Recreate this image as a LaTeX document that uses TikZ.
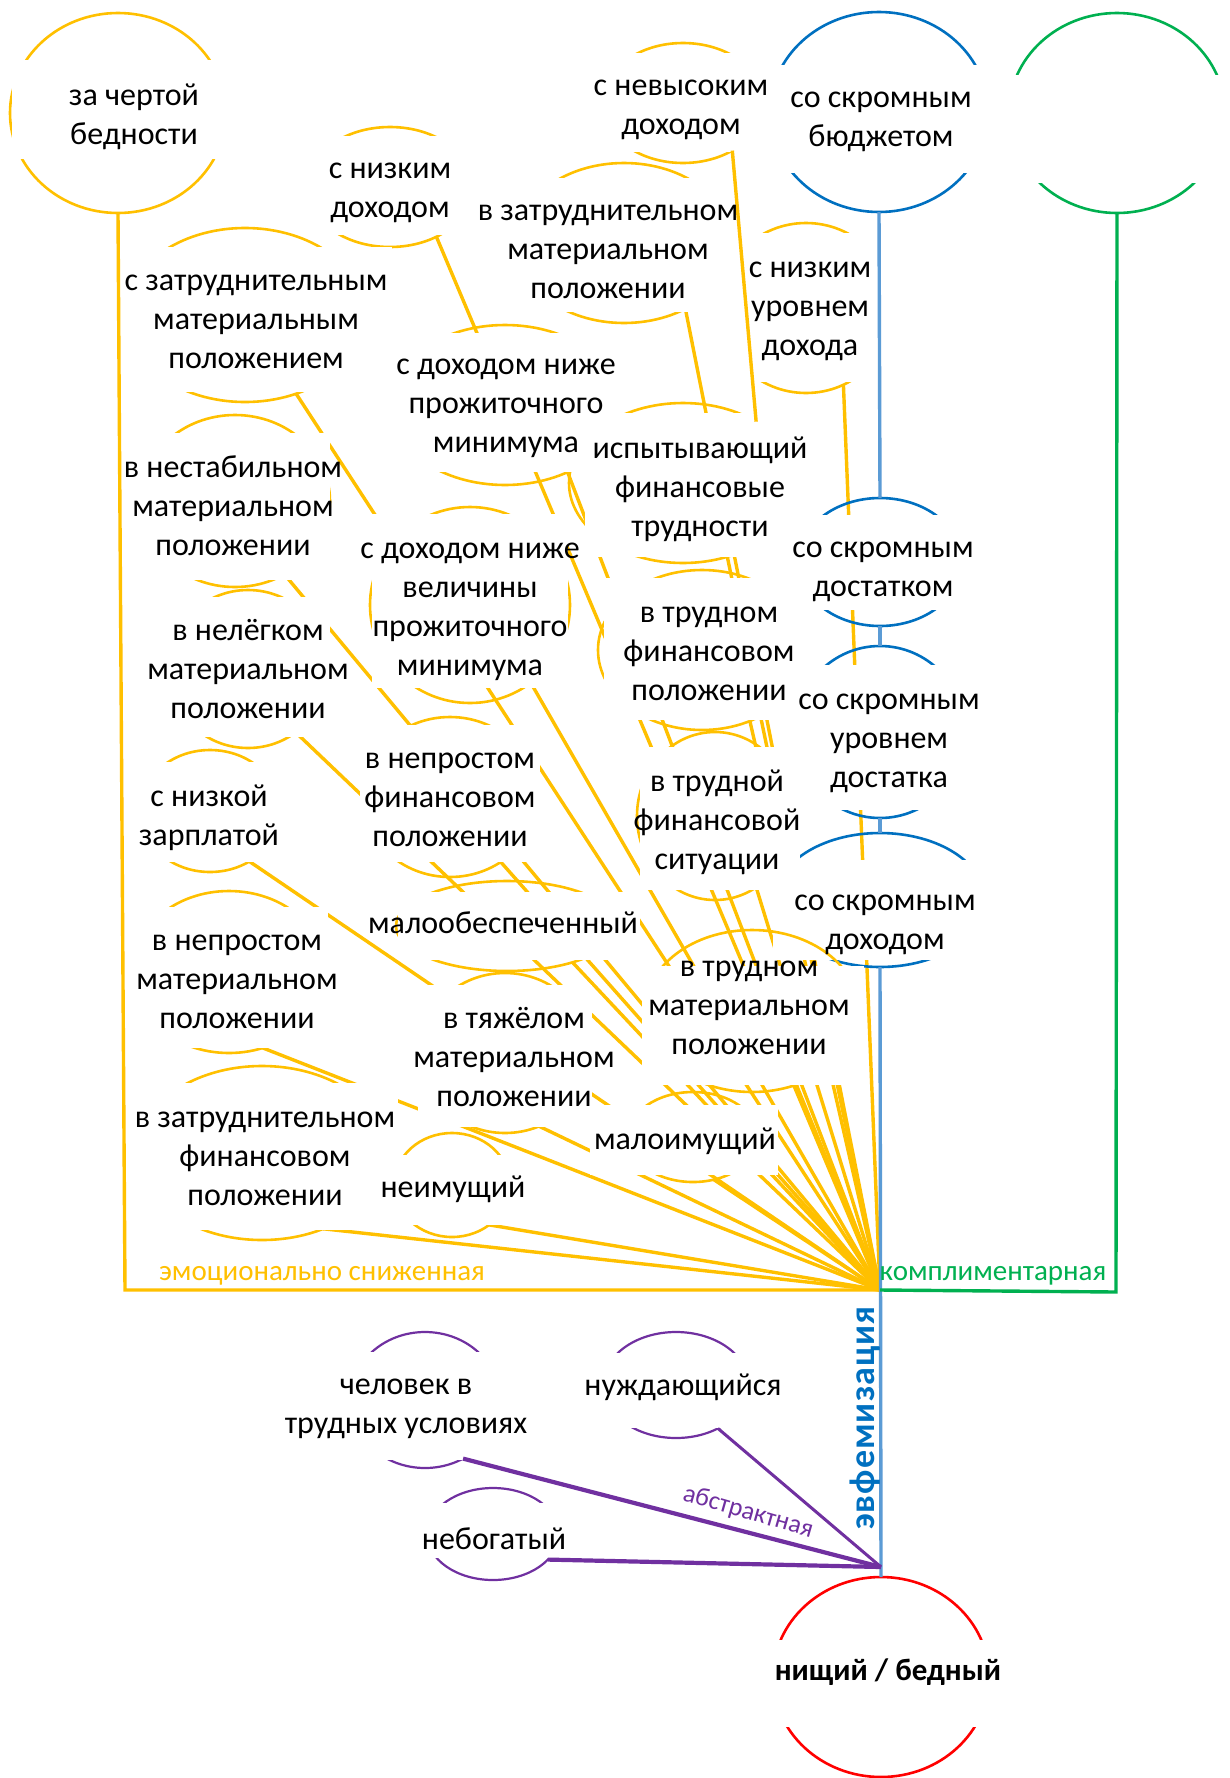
\documentclass[tikz,border=0pt]{standalone}
\usepackage{fontspec}
\setmainfont{Carlito}
\usetikzlibrary{shapes.geometric}
\definecolor{cY}{HTML}{FFC000}
\definecolor{cBd}{HTML}{0070C0}
\definecolor{cBl}{HTML}{5B9BD5}
\definecolor{cG}{HTML}{00B050}
\definecolor{cP}{HTML}{7030A0}
\definecolor{cR}{HTML}{FF0000}
\pgfdeclarelayer{bg}
\pgfdeclarelayer{lines}
\pgfdeclarelayer{top}
\pgfsetlayers{bg,lines,main,top}
\newcommand{\mainsz}{\fontsize{32}{39}\selectfont}
\newcommand{\labsz}{\fontsize{29}{35}\selectfont}
\tikzset{
  ov/.style={ellipse, inner sep=0pt, outer sep=0pt, line width=2.6pt},
  yov/.style={ov, draw=cY},
  bov/.style={ov, draw=cBd},
  gov/.style={ov, draw=cG},
  rov/.style={ov, draw=cR},
  pov/.style={ov, draw=cP, line width=2.2pt},
  txt/.style={font=\mainsz, align=center, inner sep=0pt,
    execute at begin node=\strut, execute at end node=\strut},
  link/.style={draw=cY, line width=3.4pt},
  blink/.style={draw=cBl, line width=3.4pt},
  glink/.style={draw=cG, line width=3.4pt},
  plink/.style={draw=cP, line width=3pt},
  pthick/.style={draw=cP, line width=4.2pt},
}
\begin{document}
\begin{tikzpicture}[x=1pt,y=-1pt]
\begin{pgfonlayer}{bg}
\fill[white] (0,0) rectangle (1230,1778);
\end{pgfonlayer}
\useasboundingbox (0,0) rectangle (1230,1778);

% ---- ovals, each followed by the white text field that hides its middle ----
% blue chain
\node[bov, minimum width=218pt, minimum height=200pt] (bud) at (879,112) {};
\fill[white] (766,65) rectangle (992,173);
\node[bov, minimum width=164pt, minimum height=128pt] (dost) at (880,562) {};
\fill[white] (796,515) rectangle (965,610);
\node[bov, minimum width=170pt, minimum height=172pt] (urov) at (880,732) {};
\fill[white] (793,665) rectangle (968,810);
\node[bov, minimum width=210pt, minimum height=134pt] (dohod) at (880,900) {};
\fill[white] (773,860) rectangle (987,960);
% green
\node[gov, minimum width=216pt, minimum height=200pt] (compl) at (1117,113) {};
\fill[white] (1005,75) rectangle (1230,183);
% red
\node[rov, minimum width=216pt, minimum height=200pt] (core) at (881,1677) {};
\fill[white] (764,1640) rectangle (1010,1727);

% yellow
\node[yov, minimum width=216pt, minimum height=200pt] (zcb) at (118,113) {};
\fill[white] (12,60) rectangle (230,159);
\node[yov, minimum width=162pt, minimum height=120pt] (nevys) at (683,103) {};
\fill[white] (598,53) rectangle (768,152);
\node[yov, minimum width=166pt, minimum height=120pt] (nizd) at (390,187) {};
\fill[white] (305,136) rectangle (475,235);
\node[yov, minimum width=216pt, minimum height=160pt] (zatm) at (624,243) {};
\fill[white] (514,178) rectangle (734,312);
\node[yov, minimum width=174pt, minimum height=170pt] (nizu) at (806,308) {};
\fill[white] (717,233) rectangle (895,382);
\node[yov, minimum width=240pt, minimum height=174pt] (szat) at (245,315) {};
\fill[white] (123,247) rectangle (392,392);
\node[yov, minimum width=228pt, minimum height=160pt] (isp) at (683,483) {};
\fill[white] (585,413) rectangle (812,557);
\node[yov, minimum width=230pt, minimum height=160pt] (dnpm) at (505,405) {};
\fill[white] (388,333) rectangle (622,472);
\node[yov, minimum width=200pt, minimum height=196pt] (dnvpm) at (470,605) {};
\fill[white] (372,514) rectangle (568,688);
\node[yov, minimum width=190pt, minimum height=172pt] (nestab) at (235,501) {};
\fill[white] (125,433) rectangle (330,580);
\node[yov, minimum width=160pt, minimum height=158pt] (nelegk) at (248,669) {};
\fill[white] (150,597) rectangle (330,737);
\node[yov, minimum width=208pt, minimum height=160pt] (trfp) at (702,650) {};
\fill[white] (604,578) rectangle (808,720);
\node[yov, minimum width=174pt, minimum height=160pt] (neprf) at (450,797) {};
\fill[white] (360,725) rectangle (540,862);
\node[yov, minimum width=140pt, minimum height=122pt] (zarpl) at (210,811) {};
\fill[white] (138,762) rectangle (282,862);
\node[yov, minimum width=156pt, minimum height=168pt] (trfs) at (715,816) {};
\fill[white] (640,747) rectangle (800,890);
\node[yov, minimum width=222pt, minimum height=90pt] (maloob) at (507,926) {};
\fill[white] (398,892) rectangle (640,960);
\node[yov, minimum width=194pt, minimum height=162pt] (neprm) at (229,972) {};
\fill[white] (130,907) rectangle (328,1048);
\node[yov, minimum width=214pt, minimum height=162pt] (trmp) at (752,1011) {};
\fill[white] (642,966) rectangle (864,1085);
\node[yov, minimum width=170pt, minimum height=160pt] (tyazh) at (505,1053) {};
\fill[white] (418,985) rectangle (592,1127);
\node[yov, minimum width=250pt, minimum height=174pt] (zatf) at (262,1153) {};
\fill[white] (133,1083) rectangle (398,1230);
\node[yov, minimum width=116pt, minimum height=104pt] (neim) at (452,1185) {};
\fill[white] (380,1155) rectangle (528,1225);
\node[yov, minimum width=130pt, minimum height=90pt] (maloim) at (693,1137) {};
\fill[white] (590,1105) rectangle (778,1175);

% purple
\node[pov, minimum width=150pt, minimum height=136pt] (chel) at (425,1400) {};
\fill[white] (282,1352) rectangle (531,1460);
\node[pov, minimum width=146pt, minimum height=106pt] (nuzh) at (676,1385) {};
\fill[white] (580,1353) rectangle (786,1428);
\node[pov, minimum width=132pt, minimum height=92pt] (nebog) at (493,1534) {};
\fill[white] (420,1503) rectangle (570,1558);

% ---- yellow links into the common point (kept under the text fields) ----
\coordinate (hub) at (880,1290);
\coordinate (zc) at (125,1290);
\begin{pgfonlayer}{lines}
\draw[link] (zcb.south) -- (zc) -- (hub);
\draw[link] (nizd.-47) -- (hub);
\draw[link] (zatm.-47) -- (hub);
\draw[link] (nizu.-64) -- (hub);
\draw[link] (szat.-57) -- (hub);
\draw[link] (dnpm.-47) -- (hub);
\draw[link] (isp.-59) -- (hub);
\draw[link] (trfp.-56) -- (hub);
\draw[link] (trfs.-60) -- (hub);
\draw[link] (trmp.-59) -- (hub);
\draw[link] (dnvpm.-52) -- (hub);
\draw[link] (nestab.-56) -- (hub);
\draw[link] (nelegk.-53) -- (hub);
\draw[link] (neprf.-52) -- (hub);
\draw[link] (zarpl.-52) -- (hub);
\draw[link] (neprm.-66) -- (hub);
\draw[link] (zatf.-51) -- (hub);
\draw[link] (maloob.-29) -- (hub);
\draw[link] (tyazh.-65) -- (hub);
\draw[link] (neim.-47) -- (hub);
\draw[link] (maloim.-64) -- (hub);
\end{pgfonlayer}

% ---- texts, upper connectors and labels ----
\begin{pgfonlayer}{top}
\draw[link] (nevys.-44) -- (isp.40);
\draw[blink] (bud.south) -- (dost.north);
\draw[blink] (dost.south) -- (urov.north);
\draw[blink] (urov.south) -- (dohod.north);
\draw[blink] (dohod.south) -- (core.north);
\coordinate (gc) at (1116,1292);
\draw[glink] (compl.south) -- (gc) -- (hub);
\coordinate (ph) at (881,1567);
\draw[pthick] (chel.-57) -- (ph);
\draw[plink] (nuzh.-46) -- (ph);
\draw[pthick] (nebog.-25) -- (ph);

\node[txt] (zcbt) at (134,120) {за чертой\\бедности};
\node[txt] (nevyst) at (681,113) {с невысоким\\доходом};
\node[txt] (budt) at (881,125) {со скромным\\бюджетом};
\node[txt] (nizdt) at (390,196) {с низким\\доходом};
\node[txt] (zatmt) at (608,258) {в затруднительном\\материальном\\положении};
\node[txt] (nizut) at (810,315) {с низким\\уровнем\\дохода};
\node[txt] (szatt) at (256,328) {с затруднительным\\материальным\\положением};
\node[txt] (dnpmt) at (506,412) {с доходом ниже\\прожиточного\\минимума};
\node[txt] (ispt) at (700,493) {испытывающий\\финансовые\\трудности};
\node[txt] (trfpt) at (709,660) {в трудном\\финансовом\\положении};
\node[txt] (dostt) at (883,575) {со скромным\\достатком};
\node[txt] (urovt) at (889,747) {со скромным\\уровнем\\достатка};
\node[txt] (dnvpmt) at (470,615) {с доходом ниже\\величины\\прожиточного\\минимума};
\node[txt] (nestabt) at (233,511) {в нестабильном\\материальном\\положении};
\node[txt] (nelegkt) at (248,675) {в нелёгком\\материальном\\положении};
\node[txt] (neprft) at (450,806) {в непростом\\финансовом\\положении};
\node[txt] (trfst) at (717,826) {в трудной\\финансовой\\ситуации};
\node[txt] (zarplt) at (209,821) {с низкой\\зарплатой};
\node[txt] (maloobt) at (503,926) {малообеспеченный};
\node[txt] (dohodt) at (885,928) {со скромным\\доходом};
\node[txt] (trmpt) at (749,1014) {в трудном\\материальном\\положении};
\node[txt] (tyazht) at (514,1063) {в тяжёлом\\материальном\\положении};
\node[txt] (neprmt) at (237,988) {в непростом\\материальном\\положении};
\node[txt] (zatft) at (265,1165) {в затруднительном\\финансовом\\положении};
\node[txt] (neimt) at (453,1190) {неимущий};
\node[txt] (maloimt) at (685,1142) {малоимущий};
\node[txt] (chelt) at (406,1412) {человек в\\трудных условиях};
\node[txt] (nuzht) at (683,1388) {нуждающийся};
\node[txt] (nebogt) at (494,1542) {небогатый};
\node[txt, font=\fontsize{31}{38}\selectfont\bfseries] (coret) at (888,1673) {нищий / бедный};

\node[txt, font=\labsz, text=cY] (lblemo) at (322,1273) {эмоционально сниженная};
\node[txt, font=\labsz, text=cG] (lblcompl) at (993,1273) {комплиментарная};
\node[txt, font=\fontsize{26}{31}\selectfont, text=cP, rotate=-16] (lblabs) at (748,1513) {абстрактная};
\node[txt, font=\fontsize{36}{43}\selectfont\bfseries\addfontfeature{LetterSpace=3}, text=cBd, rotate=90] (lbleuph) at (866,1418) {эвфемизация};
\end{pgfonlayer}
\end{tikzpicture}
\end{document}
